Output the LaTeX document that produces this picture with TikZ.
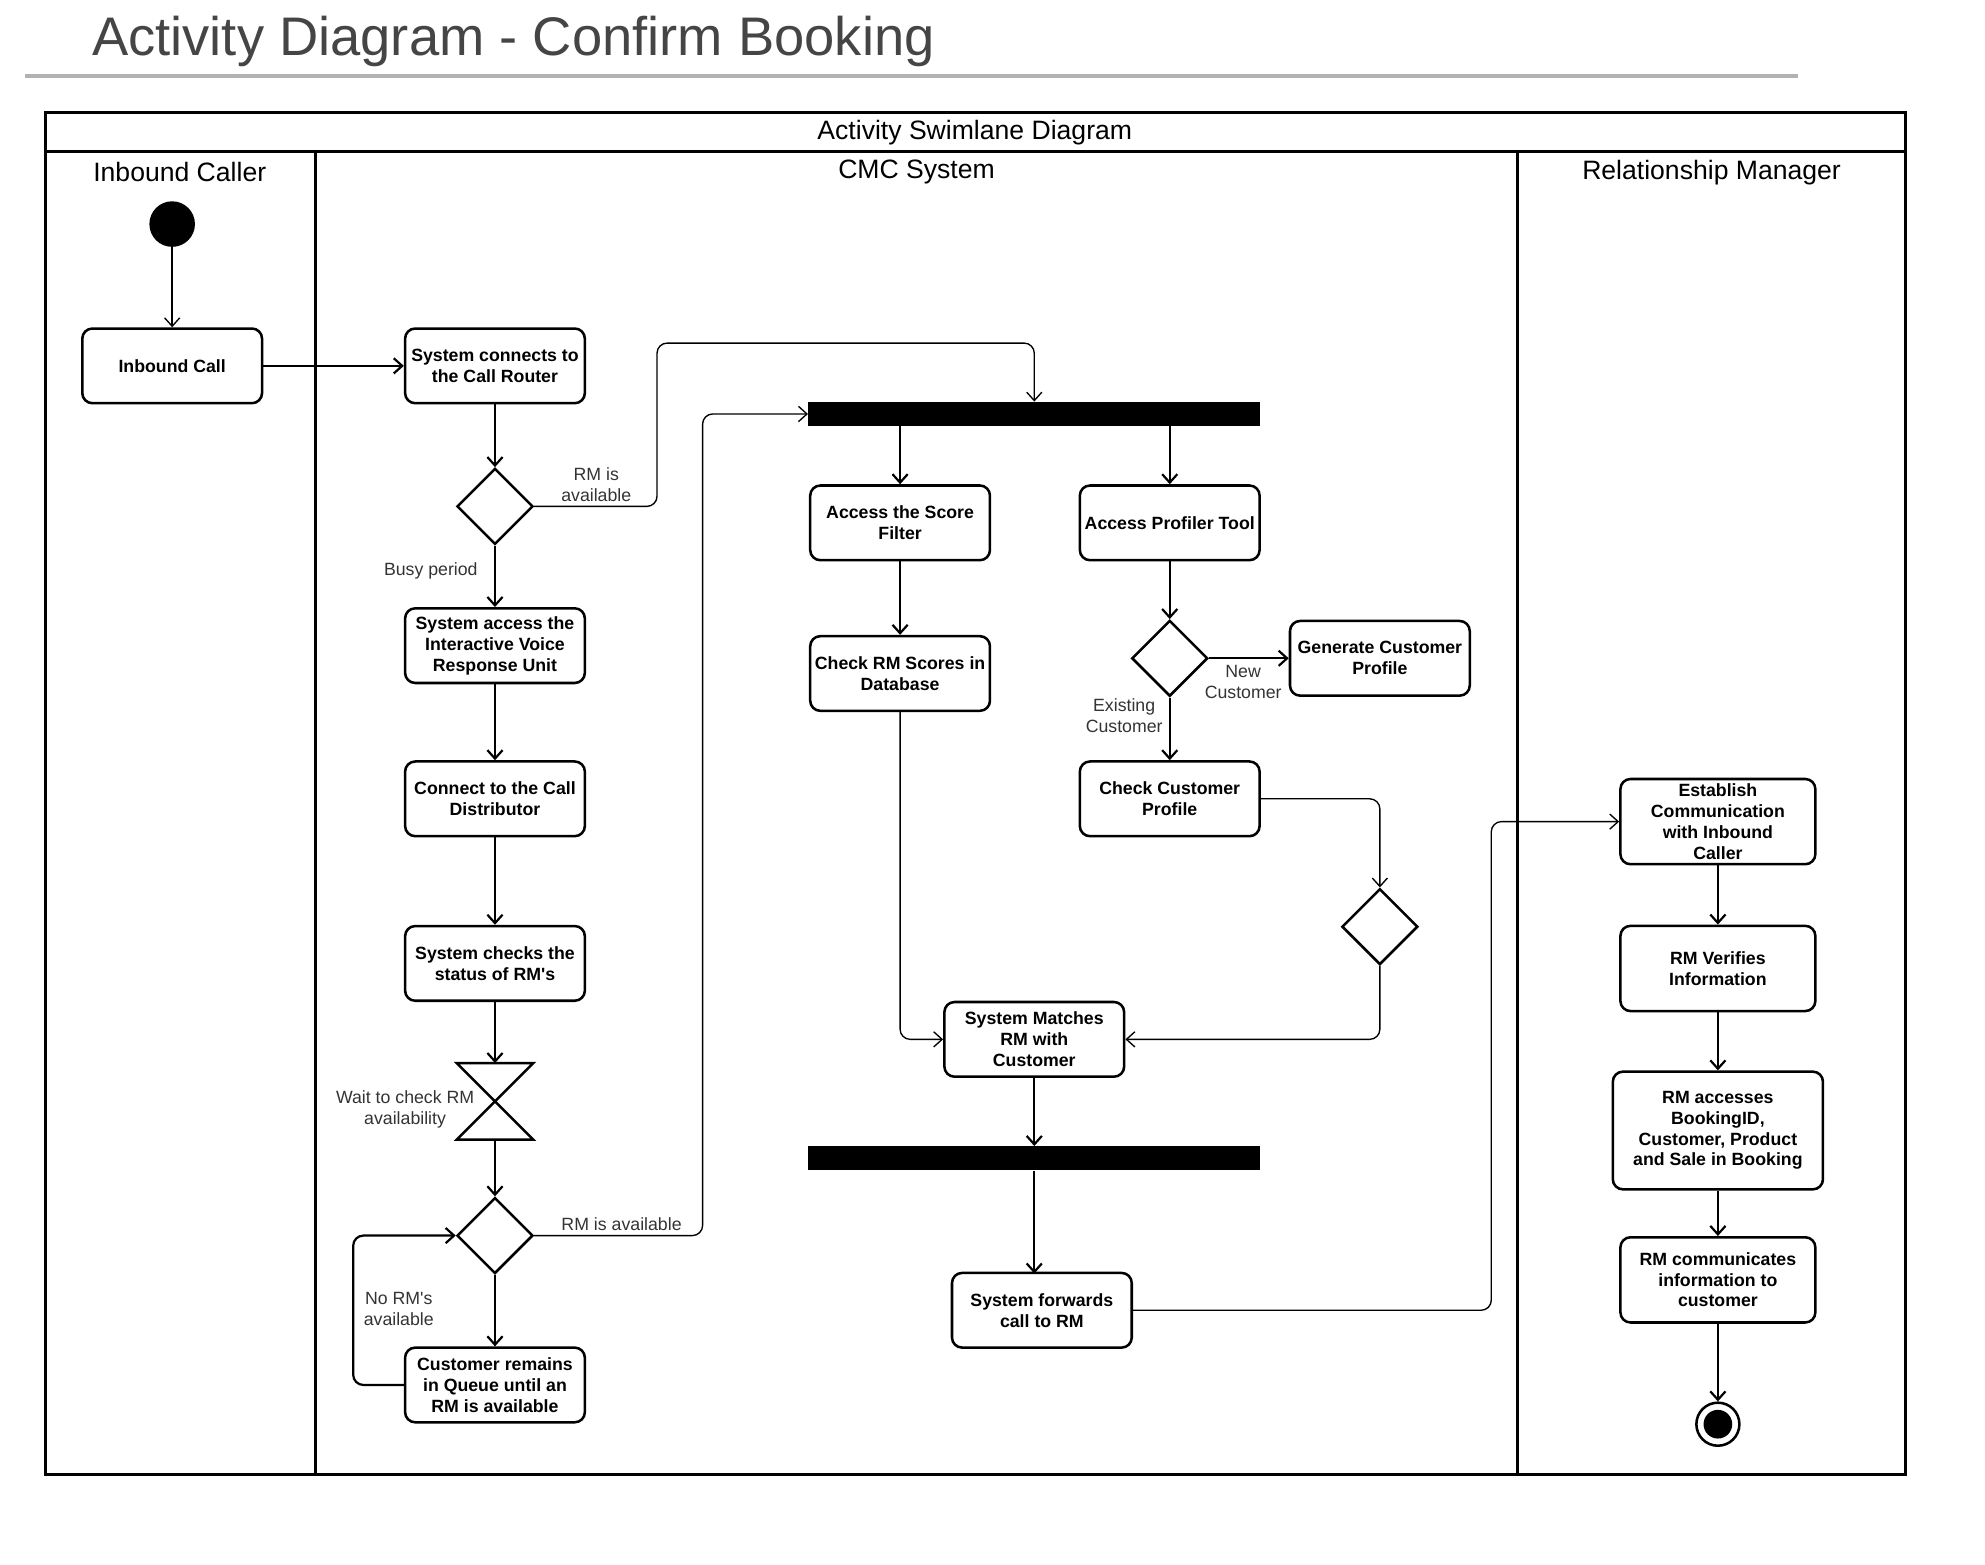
\documentclass[tikz,border=0pt]{standalone}
\usepackage{fontspec}
\setmainfont{Liberation Sans}
\usetikzlibrary{arrows.meta,shapes.geometric}

\begin{document}
\begin{tikzpicture}[x=0.75pt,y=-0.75pt,
  act/.style={draw,line width=1.5pt,rounded corners=6pt,minimum width=106.5pt,minimum height=44.25pt,
    align=center,inner sep=1pt,font=\bfseries\fontsize{10.5}{12.5}\selectfont},
  rmact/.style={act,minimum width=115.5pt,minimum height=50.5pt,font=\bfseries\fontsize{10.5}{12.3}\selectfont},
  dec/.style={draw,diamond,line width=1.5pt,minimum size=45pt,inner sep=0pt},
  bar/.style={fill=black,minimum width=267.75pt,minimum height=14.25pt,inner sep=0pt},
  flow/.style={line width=1.3pt,-{Straight Barb[length=5pt,width=9pt]}},
  route/.style={line width=0.8pt,rounded corners=6pt,-{Straight Barb[length=5pt,width=9pt]}},
  lbl/.style={text=black!80,align=center,font=\fontsize{10.5}{12.5}\selectfont},
  lane/.style={font=\fontsize{15.75}{18}\selectfont}]

\useasboundingbox (0,0) rectangle (1568,1236);

\node[font=\fontsize{32.2}{36}\selectfont,text=black!73,anchor=base west] (ttl) at (68,44) {Activity Diagram - Confirm Booking};
\draw[black!30,line width=2.25pt] (20,60) -- (1420,60);

\draw[line width=1.8pt] (36,89) rectangle (1505,1165);
\draw[line width=1.8pt] (36,120) -- (1505,120) (249,120) -- (249,1165) (1199,120) -- (1199,1165);
\node[lane] (hdr) at (770,105) {Activity Swimlane Diagram};
\node[lane] (ln1) at (142,136) {Inbound Caller};
\node[lane] (ln2) at (724,136) {CMC System};
\node[lane] (ln3) at (1352,136) {Relationship Manager};

\node[circle,fill=black,minimum size=27pt,inner sep=0pt] (st) at (136,177) {};
\node[act] (inb) at (136,289) {Inbound Call};
\node[act] (rtr) at (391,289) {System connects to\\the Call Router};
\node[dec] (d1) at (391,400) {};
\node[act] (ivr) at (391,510) {System access the\\Interactive Voice\\Response Unit};
\node[act] (dist) at (391,631) {Connect to the Call\\Distributor};
\node[act] (chk) at (391,761) {System checks the\\status of RM\textquotesingle s};
\node[minimum size=45pt,inner sep=0pt] (wait) at (391,870) {};
\draw[line width=1.5pt,line join=miter] (wait.north west) -- (wait.north east) -- (wait.south west) -- (wait.south east) -- cycle;
\node[dec] (d2) at (391,976) {};
\node[act] (que) at (391,1094) {Customer remains\\in Queue until an\\RM is available};

\node[bar] (f1) at (817,327) {};
\node[act] (scf) at (711,413) {Access the Score\\Filter};
\node[act] (prt) at (924,413) {Access Profiler Tool};
\node[act] (rms) at (711,532) {Check RM Scores in\\Database};
\node[dec] (d3) at (924,520) {};
\node[act] (gen) at (1090,520) {Generate Customer\\Profile};
\node[act] (cpr) at (924,631) {Check Customer\\Profile};
\node[dec] (d4) at (1090,732) {};
\node[act] (mat) at (817,821) {System Matches\\RM with\\Customer};
\node[bar] (f2) at (817,915) {};
\node[act] (fwd) at (823,1035) {System forwards\\call to RM};

\node[rmact] (est) at (1357,649) {Establish\\Communication\\with Inbound\\Caller};
\node[rmact] (ver) at (1357,765) {RM Verifies\\Information};
\node[rmact,minimum width=124.5pt,minimum height=69.75pt] (acc) at (1357,893) {RM accesses\\BookingID,\\Customer, Product\\and Sale in Booking};
\node[rmact] (com) at (1357,1011) {RM communicates\\information to\\customer};
\node[circle,draw,line width=1.5pt,minimum size=25.5pt,inner sep=0pt] (en) at (1357,1125) {};
\fill (en.center) circle (8.5pt);

\node[lbl] (l1) at (471,383) {RM is\\available};
\node[lbl,anchor=east] (l2) at (382,451) {Busy period};
\node[lbl] (l3) at (320,876) {Wait to check RM\\availability};
\node[lbl] (l4) at (491,967) {RM is available};
\node[lbl] (l5) at (315,1034) {No RM\textquotesingle s\\available};
\node[lbl] (l6) at (982,539) {New\\Customer};
\node[lbl] (l7) at (888,565) {Existing\\Customer};

\draw[route] (st) -- (inb);
\draw[flow] (inb) -- (rtr);
\draw[flow] (rtr) -- (d1);
\draw[route] (d1.east) -- (519,400) -- (519,271) -- (817,271) -- (f1.north);
\draw[flow] (d1) -- (ivr);
\draw[flow] (ivr) -- (dist);
\draw[flow] (dist) -- (chk);
\draw[flow] (chk) -- (wait.north);
\draw[flow] (wait.south) -- (d2);
\draw[flow] (d2) -- (que);
\draw[route] (d2.east) -- (555,976) -- (555,327) -- (f1.west);
\draw[flow,rounded corners=6pt] (que.west) -- (279,1094) -- (279,976) -- (d2.west);

\draw[flow] (scf.north |- f1.south) -- (scf);
\draw[flow] (prt.north |- f1.south) -- (prt);
\draw[flow] (scf) -- (rms);
\draw[flow] (prt) -- (d3);
\draw[flow] (d3) -- (gen);
\draw[flow] (d3) -- (cpr);
\draw[route] (cpr.east) -- (1090,631) -- (d4.north);
\draw[route] (d4.south) -- (1090,821) -- (mat.east);
\draw[route] (rms.south) -- (711,821) -- (mat.west);
\draw[flow] (mat) -- (f2);
\draw[flow] (f2.south -| 817,0) -- (817,1006);
\draw[route] (fwd.east) -- (1178,1035) -- (1178,649) -- (est.west);

\draw[flow] (est) -- (ver);
\draw[flow] (ver) -- (acc);
\draw[flow] (acc) -- (com);
\draw[flow] (com) -- (en);
\end{tikzpicture}
\end{document}
